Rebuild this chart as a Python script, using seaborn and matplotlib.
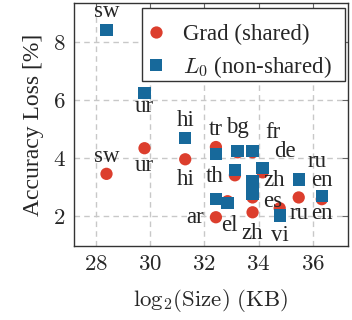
import matplotlib
matplotlib.use("Agg")
import matplotlib.pyplot as plt
import seaborn as sns
import pandas as pd
from matplotlib.patches import Rectangle
from matplotlib.ticker import FuncFormatter, MultipleLocator

languages = ["sw", "ur", "hi", "tr", "bg", "fr", "de", "th", "zh", "es", "ar", "el", "vi", "ru", "en"]
log_size = [28.4, 29.8, 31.3, 32.43, 33.23, 33.78, 34.15, 33.13, 33.78, 33.78, 32.43, 32.86, 34.78, 35.48, 36.33]
grad_loss = [3.46, 4.34, 3.96, 4.38, 4.2, 4.2, 3.51, 3.41, 2.14, 2.65, 1.97, 2.52, 2.28, 2.65, 2.59]
l0_loss = [8.4, 6.24, 4.69, 4.13, 4.25, 4.25, 3.65, 3.58, 3.2, 2.76, 2.59, 2.45, 2.03, 3.27, 2.69]
series_names = ["Grad (shared)", "$L_0$ (non-shared)"]

# label annotations: (series index, language, dx px, dy px)
annotations = [
    (1, "sw", 0, 18), (0, "sw", 0, 17), (1, "ur", 0, -14), (0, "ur", 0, -17),
    (1, "hi", 0, 18), (0, "hi", 0, -20), (0, "tr", 0, 18), (1, "bg", 0, 23),
    (1, "fr", 20, 18), (1, "de", 22, 17), (1, "th", -20, -6), (1, "zh", 22, 1),
    (1, "es", 20, -7), (1, "ru", 18, 18), (1, "en", 0, 16), (0, "ru", 0, -16),
    (0, "en", 0, -14), (0, "ar", -21, 0), (1, "el", 2, -22), (0, "zh", 0, -21),
    (1, "vi", 0, -20),
]

df = pd.concat([
    pd.DataFrame({"lang": languages, "size": log_size, "loss": grad_loss, "method": series_names[0]}),
    pd.DataFrame({"lang": languages, "size": log_size, "loss": l0_loss, "method": series_names[1]}),
], ignore_index=True)

sns.set_style("white")
SERIF = ["Liberation Serif", "DejaVu Serif"]
plt.rcParams["font.family"] = SERIF
plt.rcParams["mathtext.fontset"] = "cm"
FS = 16.5

RED = "#dc3e2d"
BLUE = "#17699b"

fig = plt.figure(figsize=(3.52, 3.2), dpi=100)
ax = fig.add_axes([0.210, 0.231, 0.779, 0.760])

sns.scatterplot(data=df, x="size", y="loss", hue="method", style="method",
                hue_order=series_names, style_order=series_names,
                palette={series_names[0]: RED, series_names[1]: BLUE},
                markers={series_names[0]: "o", series_names[1]: "s"},
                s=78, linewidth=0, ax=ax, zorder=3)

for si, lang, dx, dy in annotations:
    i = languages.index(lang)
    yv = grad_loss[i] if si == 0 else l0_loss[i]
    ax.annotate(lang, (log_size[i], yv), xytext=(dx, dy), textcoords="offset pixels",
                ha="center", va="center", fontsize=FS, zorder=5)

ax.set_xlim(27.2, 37.3)
ax.set_ylim(0.98, 9.33)
ax.xaxis.set_major_locator(MultipleLocator(2))
ax.yaxis.set_major_locator(MultipleLocator(2))
fmt = FuncFormatter(lambda v, p: f"${v:g}$")
ax.xaxis.set_major_formatter(fmt)
ax.yaxis.set_major_formatter(fmt)
ax.grid(True, color="#c8c8c8", linestyle=(0, (4, 3)), linewidth=1)
ax.tick_params(direction="in", length=4, width=0.8, color="#666666", labelsize=FS,
               top=True, right=True, pad=6)
for sp in ax.spines.values():
    sp.set_color("#333333")
    sp.set_linewidth(1.0)

ax.set_xlabel(r"$\mathrm{log_2(Size)\ (KB)}$", fontsize=FS, labelpad=8)
ax.set_ylabel("Accuracy Loss [%]", fontsize=17, labelpad=6)

# legend frame (pgfplots style: wider horizontal padding)
frame = Rectangle((0.248, 0.679), 0.989 - 0.248, 0.979 - 0.679, transform=ax.transAxes,
                  facecolor="white", edgecolor="#333333", linewidth=1.0, zorder=9)
ax.add_patch(frame)

leg = ax.legend(loc="upper left", bbox_to_anchor=(0.2865, 0.915),
                prop={"family": SERIF, "size": FS},
                frameon=False, borderpad=0.0, handlelength=0.3, handletextpad=1.05,
                labelspacing=0.4, borderaxespad=0.0, markerscale=1.0)
leg.set_zorder(10)

fig.savefig("out.png", dpi=100)
